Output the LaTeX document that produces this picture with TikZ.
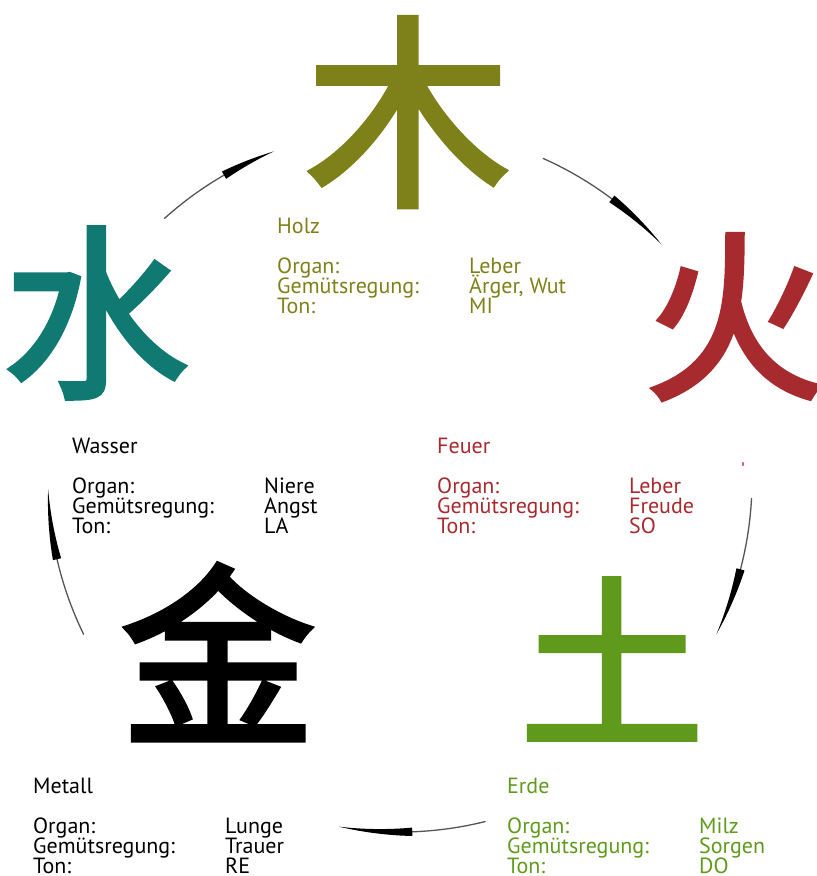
\documentclass[tikz,border=0pt]{standalone}
\usepackage{fontspec}
\setmainfont{PT Sans}
\newfontfamily\cjk[FakeBold=2.5]{Noto Sans CJK SC}
\definecolor{holzc}{HTML}{7E8119}
\definecolor{feuerc}{HTML}{A62A2E}
\definecolor{erdec}{HTML}{5F9A1C}
\definecolor{wasserc}{HTML}{107A72}
\definecolor{thinc}{HTML}{555555}
\tikzset{
  txt/.style={anchor=base west, inner sep=0pt, font=\fontsize{22}{20}\selectfont},
  glyph/.style={inner sep=0pt, font=\cjk\fontsize{#1}{#1}\selectfont},
  thinarc/.style={draw=thinc, line width=1.3pt, line cap=round},
}
\newcommand\elemblock[8]{%
  \node[txt,#4] (#1-t) at ({#2},{#3}) {#5};
  \node[txt,#4] (#1-o) at ({#2},{#3+40}) {Organ:};
  \node[txt,#4] (#1-g) at ({#2},{#3+60}) {Gemütsregung:};
  \node[txt,#4] (#1-n) at ({#2},{#3+80}) {Ton:};
  \node[txt,#4] (#1-ov) at ({#2+192},{#3+40}) {#6};
  \node[txt,#4] (#1-gv) at ({#2+192},{#3+60}) {#7};
  \node[txt,#4] (#1-nv) at ({#2+192},{#3+80}) {#8};
}
% brush arrow (inside a scope shifted to the centre): #1 start, #2 wedge start, #3 end angle
\newcommand\brusharrow[3]{%
  \draw[thinarc] (#1:352) arc[start angle=#1, end angle=#2, radius=352];
  \fill[black] plot[domain=#2:#3, samples=24] (\x:{352+4.2*(#3-\x)/(#3-#2)})
     -- plot[domain=#3:#2, samples=24] (\x:{352-4.2*(#3-\x)/(#3-#2)}) -- cycle;
}
\begin{document}
\begin{tikzpicture}[x=1pt,y=-1pt]
\useasboundingbox (0,0) rectangle (817,876);
\coordinate (c) at (400,480);
% characters
\node[glyph=206, holzc]   (mu)    at (408,112) {木};
\node[glyph=182, feuerc]  (huo)   at (735,317) {火};
\node[glyph=186, wasserc] (shui)  at (96,313) {水};
\node[glyph=196, black]   (jin)   at (218,652) {金};
\node[glyph=185, erdec]   (tu)    at (612,659) {土};
% stray mark
\fill[feuerc!70] (743,464) ellipse (1pt and 2.2pt);
% text blocks
\elemblock{holz}{277}{233}{holzc}{Holz}{Leber}{Ärger, Wut}{MI}
\elemblock{wasser}{72}{453}{black}{Wasser}{Niere}{Angst}{LA}
\elemblock{feuer}{437}{453}{feuerc}{Feuer}{Leber}{Freude}{SO}
\elemblock{metall}{33}{793}{black}{Metall}{Lunge}{Trauer}{RE}
\elemblock{erde}{507}{793}{erdec}{Erde}{Milz}{Sorgen}{DO}
% arrows of the cycle
\begin{scope}[shift={(c)}]
\brusharrow{-132}{-120}{-111}
\brusharrow{-66}{-53}{-42}
\brusharrow{3}{14.7}{26}
\brusharrow{76}{88}{100}
\brusharrow{154}{167}{178.5}
\end{scope}
\end{tikzpicture}
\end{document}
